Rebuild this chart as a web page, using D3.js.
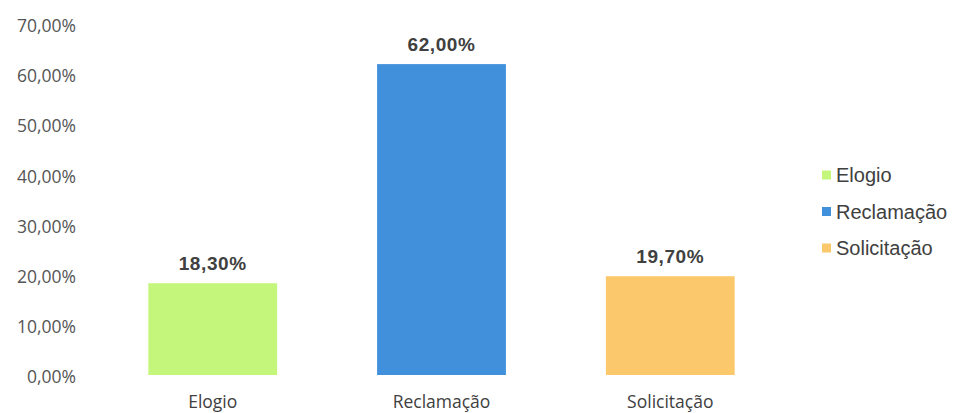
<!DOCTYPE html>
<html>
<head>
<meta charset="utf-8">
<script src="https://cdn.jsdelivr.net/npm/d3@7"></script>
<style>
  html, body { margin: 0; padding: 0; background: #fff; }
  svg { display: block; }
</style>
</head>
<body>
<div id="chart"></div>
<script>
// Distribuição das manifestações por tipo
const categories = ["Elogio", "Reclamação", "Solicitação"];
const values = [0.183, 0.62, 0.197];
const colors = ["#c5f67c", "#4090dc", "#fbc86c"];
const yTicks = [0, 0.1, 0.2, 0.3, 0.4, 0.5, 0.6, 0.7];

const width = 956, height = 413;

const svg = d3.select("#chart").append("svg")
  .attr("width", width)
  .attr("height", height);

const x = d3.scaleBand()
  .domain(categories)
  .range([98, 785])
  .paddingInner(0.437)
  .paddingOuter(0.22);

const y = d3.scaleLinear()
  .domain([0, 0.7])
  .range([375, 24]);

const pct = v => d3.format(".2f")(v * 100).replace(".", ",") + "%";

// Y axis (labels only)
const yAxis = d3.axisLeft(y)
  .tickValues(yTicks)
  .tickFormat(pct)
  .tickSize(0)
  .tickPadding(0);

svg.append("g")
  .attr("transform", "translate(76,2)")
  .call(yAxis)
  .call(g => g.select(".domain").remove())
  .call(g => g.selectAll("text")
    .attr("fill", "#555555")
    .style("font-family", "'Open Sans', sans-serif")
    .style("font-size", "17.5px"));

// X axis (labels only)
const xAxis = d3.axisBottom(x).tickSize(0).tickPadding(0);
svg.append("g")
  .attr("transform", "translate(0,396)")
  .call(xAxis)
  .call(g => g.select(".domain").remove())
  .call(g => g.selectAll("text")
    .attr("fill", "#404040")
    .style("font-family", "'Open Sans', sans-serif")
    .style("font-size", "17.5px"));

// Bars
svg.append("g").selectAll("rect")
  .data(categories)
  .join("rect")
  .attr("x", d => x(d))
  .attr("width", x.bandwidth())
  .attr("y", (d, i) => y(values[i]))
  .attr("height", (d, i) => y(0) - y(values[i]))
  .attr("fill", (d, i) => colors[i]);

// Value labels
svg.append("g").selectAll("text")
  .data(categories)
  .join("text")
  .attr("x", d => x(d) + x.bandwidth() / 2)
  .attr("y", (d, i) => y(values[i]) - 13)
  .attr("text-anchor", "middle")
  .attr("fill", "#404040")
  .style("font-family", "'Liberation Sans', Arial, sans-serif")
  .style("font-weight", "bold")
  .style("font-size", "19px")
  .style("letter-spacing", "0.6px")
  .text((d, i) => pct(values[i]));

// Legend
const legend = svg.append("g").attr("transform", "translate(822,0)");
const legendRows = legend.selectAll("g")
  .data(categories)
  .join("g")
  .attr("transform", (d, i) => `translate(0,${175 + i * 36.5})`);

legendRows.append("rect")
  .attr("x", 0)
  .attr("y", -4.5)
  .attr("width", 9)
  .attr("height", 9)
  .attr("fill", (d, i) => colors[i]);

legendRows.append("text")
  .attr("x", 14)
  .attr("y", 0)
  .attr("dy", "0.35em")
  .attr("fill", "#404040")
  .style("font-family", "'Liberation Sans', Arial, sans-serif")
  .style("font-size", "20px")
  .text(d => d);
</script>
</body>
</html>
